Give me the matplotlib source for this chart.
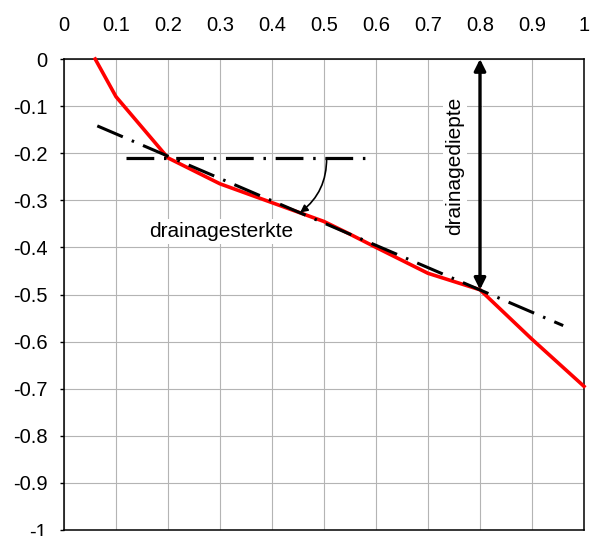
import matplotlib
matplotlib.use("Agg")
import matplotlib.pyplot as plt
from matplotlib.ticker import FixedLocator, FixedFormatter

plt.rcParams['font.family'] = ['Liberation Sans', 'DejaVu Sans']
plt.rcParams['lines.scale_dashes'] = False

# Measured profile (red line)
profile_x = [0.06, 0.1, 0.2, 0.3, 0.4, 0.45, 0.5, 0.55, 0.6, 0.7, 0.8, 0.9, 1.0]
profile_y = [0.0, -0.08, -0.21, -0.265, -0.305, -0.325, -0.345, -0.372, -0.4, -0.455, -0.49, -0.595, -0.695]

# Fitted trend line (dash-dot)
trend_x = [0.064, 0.96]
trend_y = [-0.142, -0.566]

# Horizontal reference line
ref_x = [0.12, 0.585]
ref_y = [-0.21, -0.21]

# Annotation anchors
strength_from = (0.505, -0.21)
strength_to = (0.454, -0.326)
depth_x = 0.8
depth_top = 0.0
depth_bottom = -0.49

x_ticks = [0, 0.1, 0.2, 0.3, 0.4, 0.5, 0.6, 0.7, 0.8, 0.9, 1.0]
x_labels = ["0", "0.1", "0.2", "0.3", "0.4", "0.5", "0.6", "0.7", "0.8", "0.9", "1"]
y_ticks = [0, -0.1, -0.2, -0.3, -0.4, -0.5, -0.6, -0.7, -0.8, -0.9, -1.0]
y_labels = ["0", "-0.1", "-0.2", "-0.3", "-0.4", "-0.5", "-0.6", "-0.7", "-0.8", "-0.9", "-1"]

fig = plt.figure(figsize=(5.90, 5.36), dpi=100)
ax = fig.add_axes([64 / 590, 1 - 530 / 536, 520 / 590, 471 / 536])

ax.set_xlim(0, 1)
ax.set_ylim(-1, 0)

ax.xaxis.set_major_locator(FixedLocator(x_ticks))
ax.xaxis.set_major_formatter(FixedFormatter(x_labels))
ax.yaxis.set_major_locator(FixedLocator(y_ticks))
ax.yaxis.set_major_formatter(FixedFormatter(y_labels))
ax.xaxis.tick_top()
ax.tick_params(axis='x', which='major', length=0, pad=17, labelsize=14.5)
ax.tick_params(axis='y', which='major', length=3, width=1, pad=9, labelsize=14.5)

ax.grid(True, color='#b4b4b4', linewidth=0.8)
ax.set_axisbelow(True)
for sp in ax.spines.values():
    sp.set_color('black')
    sp.set_linewidth(1.1)

dashdot = (0, (20, 7, 1.8, 7))

ax.plot(profile_x, profile_y, color='#ff0000', linewidth=2.6, solid_joinstyle='round', zorder=3, clip_on=False)
ax.plot(trend_x, trend_y, color='black', linewidth=2.2, linestyle=dashdot, dash_capstyle='butt', zorder=4)
ax.plot(ref_x, ref_y, color='black', linewidth=2.3, linestyle=dashdot, dash_capstyle='butt', zorder=4)

# Curved arrow pointing at the strength label region
ax.annotate("", xy=strength_to, xytext=strength_from,
            arrowprops=dict(arrowstyle='-|>', color='black', linewidth=1.2,
                            mutation_scale=11, shrinkA=0, shrinkB=0,
                            connectionstyle='arc3,rad=-0.25'), zorder=5)

# Double-headed arrow for the drainage depth
ax.annotate("", xy=(depth_x, depth_top), xytext=(depth_x, depth_bottom),
            arrowprops=dict(arrowstyle='<|-|>', color='black', linewidth=2.4,
                            mutation_scale=17, shrinkA=0, shrinkB=0), zorder=5,
            annotation_clip=False)
ax.plot([depth_x + 0.004, depth_x + 0.004], [depth_top - 0.04, depth_bottom + 0.04],
        color='white', linewidth=0.6, linestyle=(0, (1, 1.5)), zorder=6)

ax.text(0.752, -0.227, "drainagediepte", rotation=90, ha='center', va='center',
        fontsize=15, zorder=4,
        bbox=dict(facecolor='white', edgecolor='none', pad=1.5))
ax.text(0.302, -0.366, "drainagesterkte", ha='center', va='center',
        fontsize=15, zorder=4,
        bbox=dict(facecolor='white', edgecolor='none', pad=2))

fig.savefig("out.png", dpi=100)
